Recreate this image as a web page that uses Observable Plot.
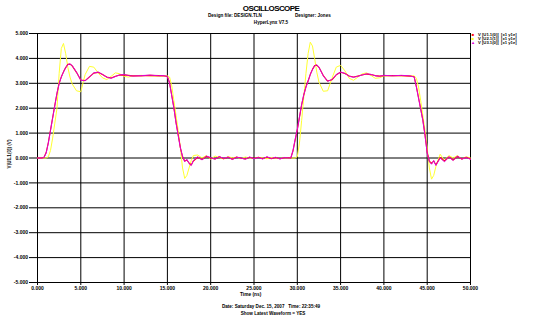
<!DOCTYPE html>
<html><head><meta charset="utf-8">
<script src="https://cdn.jsdelivr.net/npm/d3@7"></script>
<script src="https://cdn.jsdelivr.net/npm/@observablehq/plot@0.6"></script>
<style>body{margin:0;background:#fff;} #c{width:543px;height:320px;}</style>
</head><body><div id="c"></div>
<script>
const timeNs = [
  0, 0.5, 0.75, 1, 1.25, 1.5, 1.75, 2, 2.25, 2.5, 2.75, 3, 3.25, 3.5, 3.75, 4,
  4.5, 5, 5.5, 6, 6.5, 7, 7.5, 8, 8.5, 9, 9.5, 10, 10.5, 11,
  12, 13, 14, 14.5, 15,
  15.25, 15.5, 15.75, 16, 16.25, 16.5, 16.75, 17, 17.25, 17.5, 17.75, 18,
  18.5, 19, 19.5, 20, 20.5, 21, 21.5, 22, 22.5, 23, 23.5, 24, 24.5, 25, 25.5, 26, 26.5, 27, 27.5, 28, 28.5, 29,
  29.25, 29.5, 29.75, 30, 30.25, 30.5, 30.75, 31, 31.25, 31.5, 31.75, 32, 32.25, 32.5,
  33, 33.5, 34, 34.5, 35, 35.5, 36, 36.5, 37, 37.5, 38, 38.5, 39, 39.5, 40,
  41, 42, 43, 43.5,
  43.75, 44, 44.25, 44.5, 44.75, 45, 45.25, 45.5, 45.75, 46,
  46.5, 47, 47.5, 48, 48.5, 49, 49.5, 50
];
const yellowV = [
  0, 0, 0, 0, 0.05, 0.3, 0.8, 1.4, 2.0, 3.4, 4.4, 4.6, 4.2, 3.65, 3.25, 2.98,
  2.7, 2.66, 3.35, 3.68, 3.65, 3.42, 3.22, 3.15, 3.28, 3.42, 3.38, 3.28, 3.25, 3.3,
  3.32, 3.3, 3.28, 3.3, 3.3,
  3.25, 2.9, 2.3, 1.7, 1.1, 0.4, -0.4, -0.82, -0.7, -0.4, -0.1, 0.1,
  0.12, 0.0, 0.1, -0.05, 0.08, 0.02, -0.04, 0.06, 0.0, 0.03, -0.03, 0.04, 0.0, -0.02, 0.03, 0.0, -0.03, 0.02, 0.0, -0.02, 0.01, 0.0,
  0, 0, 0, 0.05, 0.6, 1.5, 2.45, 3.4, 4.2, 4.65, 4.5, 4.0, 3.45, 3.05,
  2.68, 2.7, 3.2, 3.65, 3.72, 3.5, 3.2, 3.12, 3.25, 3.38, 3.42, 3.32, 3.2, 3.22, 3.3,
  3.3, 3.3, 3.3, 3.3,
  3.2, 2.85, 2.3, 1.7, 1.1, 0.4, -0.4, -0.85, -0.7, -0.35,
  0.15, -0.1, 0.1, 0.0, 0.1, -0.05, 0.05, 0.0
];
const redV = [
  0, 0, 0.03, 0.22, 0.62, 1.12, 1.62, 2.12, 2.6, 3.0, 3.26, 3.46, 3.63, 3.76, 3.77, 3.7,
  3.44, 3.13, 3.11, 3.26, 3.41, 3.44, 3.35, 3.25, 3.21, 3.28, 3.33, 3.34, 3.32, 3.3,
  3.3, 3.32, 3.31, 3.3, 3.27,
  3.02, 2.52, 2.02, 1.42, 0.92, 0.42, 0.06, -0.12, -0.08, -0.2, -0.28, -0.12,
  0.03, -0.06, 0.06, 0.0, -0.04, 0.05, -0.03, 0.03, -0.05, 0.04, -0.01, -0.04, 0.03, -0.02, 0.03, -0.03, 0.04, -0.03, 0.02, -0.03, 0.01, 0.01,
  0.0, 0.28, 0.72, 1.13, 1.63, 2.13, 2.53, 2.86, 3.1, 3.36, 3.56, 3.71, 3.73, 3.64,
  3.31, 3.09, 3.14, 3.34, 3.44, 3.39, 3.29, 3.25, 3.29, 3.33, 3.37, 3.35, 3.31, 3.29, 3.31,
  3.31, 3.31, 3.29, 3.26,
  2.87, 2.42, 1.97, 1.52, 0.92, 0.22, -0.12, -0.22, -0.12, -0.27,
  0.02, -0.12, 0.04, -0.08, 0.06, -0.04, 0.03, -0.04
];
const magentaV = [
  0, 0, 0.02, 0.2, 0.6, 1.1, 1.6, 2.1, 2.6, 3.0, 3.25, 3.45, 3.62, 3.75, 3.78, 3.72,
  3.45, 3.12, 3.1, 3.25, 3.42, 3.45, 3.36, 3.24, 3.2, 3.27, 3.34, 3.35, 3.31, 3.29,
  3.31, 3.33, 3.3, 3.31, 3.28,
  3.0, 2.5, 2.0, 1.4, 0.9, 0.4, 0.05, -0.15, -0.05, -0.22, -0.3, -0.1,
  0.05, -0.08, 0.08, 0.02, -0.05, 0.06, -0.02, 0.04, -0.06, 0.03, 0.0, -0.05, 0.04, -0.03, 0.02, -0.04, 0.05, -0.02, 0.03, -0.04, 0.02, 0.0,
  0.0, 0.3, 0.75, 1.15, 1.65, 2.15, 2.55, 2.85, 3.08, 3.35, 3.55, 3.7, 3.74, 3.65,
  3.3, 3.08, 3.15, 3.35, 3.45, 3.4, 3.28, 3.24, 3.28, 3.34, 3.38, 3.36, 3.3, 3.28, 3.32,
  3.3, 3.32, 3.3, 3.25,
  2.85, 2.4, 1.95, 1.5, 0.9, 0.2, -0.15, -0.25, -0.1, -0.3,
  0.0, -0.15, 0.05, -0.1, 0.08, -0.05, 0.02, -0.05
];
const xTicks = [0, 5, 10, 15, 20, 25, 30, 35, 40, 45, 50];
const yTicks = [-5, -4, -3, -2, -1, 0, 1, 2, 3, 4, 5];
const seriesNames = ["V [U1.1(0)]  [x1 y1e]", "V [U2.1(1)]  [x1 y1e]", "V [U3.1(0)]  [x1 y1e]"];
const seriesColors = ["#ff1010", "#ffff30", "#e000d8"];
const seriesGlyphs = ["\u25A0", "\u25A0", "\u25B2"];
const titleText = "OSCILLOSCOPE";
const designText = "Design file: DESIGN.TLN";
const designerText = "Designer: Jones";
const versionText = "HyperLynx V7.5";
const xLabel = "Time (ns)";
const yLabel = "V(U1.1(0)) (V)";
const dateText = "Date: Saturday Dec. 15, 2007   Time: 22:35:49";
const showText = "Show Latest Waveform = YES";

const mk = arr => timeNs.map((t, i) => ({t, v: arr[i]}));
const fmt = d => d3.format(".3f")(d).replace("\u2212", "-");
const font = "'Liberation Sans', Arial, sans-serif";

const chart = Plot.plot({
  width: 543, height: 320,
  marginLeft: 37, marginRight: 73, marginTop: 33, marginBottom: 38,
  style: {fontFamily: font, fontSize: "5px", fontWeight: "bold", background: "white", color: "black"},
  x: {domain: [0, 50]},
  y: {domain: [-5, 5]},
  marks: [
    Plot.gridX(xTicks, {stroke: "black", strokeOpacity: 1, strokeWidth: 1}),
    Plot.gridY(yTicks, {stroke: "black", strokeOpacity: 1, strokeWidth: 1}),
    Plot.axisX(xTicks, {tickFormat: fmt, tickSize: 3, tickPadding: 0.5, label: null, fontSize: 5}),
    Plot.axisY(yTicks, {tickFormat: fmt, tickSize: 8, tickPadding: 1.5, label: null, fontSize: 5}),
    Plot.lineY(mk(yellowV), {x: "t", y: "v", stroke: seriesColors[1], strokeWidth: 1}),
    Plot.lineY(mk(redV), {x: "t", y: "v", stroke: seriesColors[0], strokeWidth: 1.1}),
    Plot.lineY(mk(magentaV), {x: "t", y: "v", stroke: seriesColors[2], strokeWidth: 1})
  ]
});
document.getElementById("c").appendChild(chart);

const svg = d3.select(chart);
function txt(x, y, s, size, anchor = "start", extra = {}) {
  const t = svg.append("text").attr("x", x).attr("y", y).text(s)
    .attr("font-size", size).attr("font-weight", "bold").attr("font-family", font)
    .attr("text-anchor", anchor).attr("fill", "black");
  for (const k in extra) t.attr(k, extra[k]);
  return t;
}
txt(271, 11, titleText, 8, "middle", {"letter-spacing": "-0.6"});
txt(208, 17, designText, 4.6, "start");
txt(295, 17, designerText, 4.6, "start");
txt(271, 24, versionText, 4.6, "middle");
txt(240, 296, xLabel, 4.8, "start");
txt(271, 308, dateText, 4.6, "middle");
txt(273, 314.5, showText, 4.6, "middle");
svg.append("text").attr("transform", "translate(10.5,154) rotate(-90)")
  .attr("text-anchor", "middle").attr("font-size", 4.6).attr("font-weight", "bold")
  .attr("font-family", font).text(yLabel);
seriesNames.forEach((n, i) => {
  const y = 35.5 + i * 4.3;
  svg.append("text").attr("x", 473).attr("y", y).attr("font-size", 4.2)
    .attr("fill", seriesColors[i]).text(seriesGlyphs[i]);
  txt(478, y, n, 4.2, "start");
});
</script>
</body></html>
